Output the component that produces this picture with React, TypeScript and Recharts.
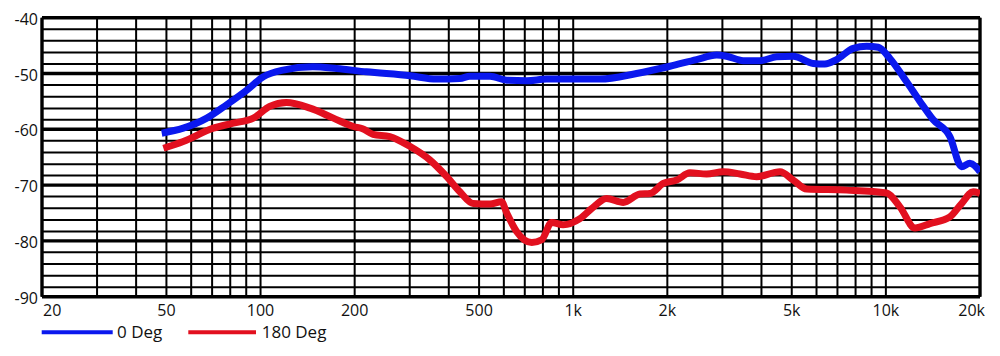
import React from 'react';
import { LineChart, Line, XAxis, YAxis, CartesianGrid, Legend } from 'recharts';

// ---- data ----
const xTicks = [20, 50, 100, 200, 500, 1000, 2000, 5000, 10000, 20000];
const xTickLabels = ['20', '50', '100', '200', '500', '1k', '2k', '5k', '10k', '20k'];
const yTicks = [-40, -50, -60, -70, -80, -90];
const gridFreqs = [
  20, 30, 40, 50, 60, 70, 80, 90,
  100, 200, 300, 400, 500, 600, 700, 800, 900,
  1000, 2000, 3000, 4000, 5000, 6000, 7000, 8000, 9000,
  10000, 20000,
];
const majorDb = [-40, -50, -60, -70, -80, -90];
const minorDb = [
  -42.05, -44.15, -46.25, -48.3,
  -52.05, -54.15, -56.25, -58.3,
  -62.05, -64.15, -66.25, -68.3,
  -72.05, -74.15, -76.25, -78.3,
  -82.05, -84.15, -86.25, -88.3,
];

const zeroFreq = [48.3, 56.6, 67.3, 77.9, 90.3, 102, 118, 147, 175, 218, 301, 366, 434, 467, 542, 613, 710, 822, 1051, 1218, 1595, 2038, 2482, 2876, 3094, 3497, 3956, 4474, 5054, 5856, 6383, 6956, 7862, 8679, 9454, 10302, 11652, 12850, 14174, 16022, 17466, 18570, 20000];
const zeroDb = [-60.7, -59.8, -58.0, -55.6, -53.0, -50.6, -49.4, -48.8, -49.1, -49.7, -50.4, -51.0, -50.9, -50.5, -50.5, -51.2, -51.3, -51.0, -51.0, -51.0, -50.0, -48.7, -47.5, -46.7, -46.9, -47.7, -47.7, -47.0, -46.9, -48.2, -48.3, -47.5, -45.5, -45.1, -45.3, -47.3, -51.5, -55.0, -58.3, -61.3, -66.7, -66.1, -67.6];

const r180Freq = [48.9, 56.6, 70.6, 81.8, 94.8, 107, 121, 144, 171, 198, 212, 229, 259, 301, 348, 394, 434, 479, 542, 590, 613, 659, 737, 793, 853, 929, 1051, 1146, 1279, 1446, 1635, 1760, 1941, 2142, 2362, 2671, 3018, 3414, 3862, 4364, 4582, 5054, 5580, 7490, 10054, 11090, 12386, 13832, 16022, 17466, 19024, 20000];
const r180Db = [-63.4, -62.2, -59.8, -58.9, -58.0, -55.9, -55.2, -56.2, -58.0, -59.5, -59.9, -60.9, -61.3, -63.1, -65.5, -68.5, -71.2, -73.3, -73.4, -73.0, -75.0, -78.3, -80.3, -79.8, -76.7, -77.1, -76.0, -74.2, -72.4, -73.1, -71.6, -71.5, -69.7, -69.1, -67.8, -68.0, -67.6, -68.0, -68.5, -67.8, -67.6, -69.1, -70.7, -70.9, -71.4, -73.9, -77.7, -76.9, -75.7, -73.3, -71.2, -71.5];

const seriesNames = ['0 Deg', '180 Deg'];

const zeroData = zeroFreq.map((f, i) => ({ f, v: zeroDb[i] }));
const r180Data = r180Freq.map((f, i) => ({ f, v: r180Db[i] }));

const BLUE = '#0a18ee';
const RED = '#e2101f';
const FONT = '"Open Sans", sans-serif';

const XTick = (props: any) => {
  const { x, y, payload } = props;
  const v = payload.value;
  const idx = xTicks.indexOf(v);
  let anchor: any = 'middle';
  let dx = 0;
  if (v === 20) { anchor = 'start'; dx = 1; }
  if (v === 20000) { anchor = 'end'; dx = 5; }
  return (
    <text x={x + dx} y={y + 19.5} textAnchor={anchor} fontFamily={FONT} fontSize={16} fill="#111">
      {idx >= 0 ? xTickLabels[idx] : String(v)}
    </text>
  );
};

const YTick = (props: any) => {
  const { x, y, payload } = props;
  return (
    <text x={x - 4} y={y + 7} textAnchor="end" fontFamily={FONT} fontSize={16} fill="#111">
      {String(payload.value)}
    </text>
  );
};

const renderLegend = () => (
  <svg width={400} height={30} style={{ display: 'block' }}>
    <line x1={33.7} x2={104.7} y1={14.3} y2={14.3} stroke={BLUE} strokeWidth={4} />
    <text x={109} y={19.7} fontFamily={FONT} fontSize={17} fill="#111">{seriesNames[0]}</text>
    <line x1={180.3} x2={248} y1={14.3} y2={14.3} stroke={RED} strokeWidth={4} />
    <text x={253.7} y={19.7} fontFamily={FONT} fontSize={17} fill="#111">{seriesNames[1]}</text>
  </svg>
);

export default function App() {
  return (
    <LineChart
      width={984}
      height={348}
      margin={{ top: 9.7, right: 12, bottom: 29.3, left: 0 }}
      style={{ background: '#fff' }}
    >
      <CartesianGrid
        stroke="#000"
        strokeWidth={2}
        horizontalValues={minorDb}
        verticalValues={gridFreqs}
      />
      <CartesianGrid
        stroke="#000"
        strokeWidth={3.4}
        horizontalValues={majorDb}
        verticalValues={[20, 20000]}
      />
      <XAxis
        dataKey="f"
        type="number"
        scale="log"
        domain={[20, 20000]}
        ticks={xTicks}
        allowDataOverflow
        axisLine={false}
        tickLine={false}
        tickSize={0}
        tickMargin={0}
        height={30}
        interval={0}
        tick={<XTick />}
      />
      <YAxis
        type="number"
        domain={[-90, -40]}
        ticks={yTicks}
        allowDataOverflow
        axisLine={false}
        tickLine={false}
        tickSize={0}
        tickMargin={0}
        width={34}
        interval={0}
        tick={<YTick />}
      />
      <Legend
        layout="horizontal"
        verticalAlign="middle"
        align="center"
        wrapperStyle={{ top: 310, left: 0, width: 400, height: 30 }}
        content={renderLegend}
      />
      <Line
        data={zeroData}
        dataKey="v"
        name={seriesNames[0]}
        type="monotone"
        stroke={BLUE}
        strokeWidth={7}
        dot={false}
        activeDot={false}
        isAnimationActive={false}
      />
      <Line
        data={r180Data}
        dataKey="v"
        name={seriesNames[1]}
        type="monotone"
        stroke={RED}
        strokeWidth={7}
        dot={false}
        activeDot={false}
        isAnimationActive={false}
      />
    </LineChart>
  );
}
